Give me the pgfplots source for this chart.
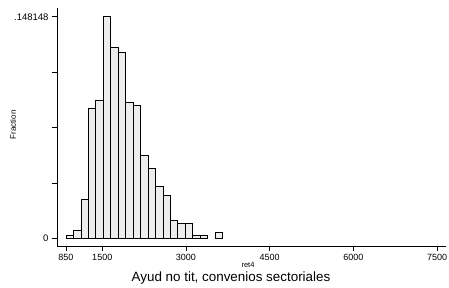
\documentclass[border=0pt]{standalone}
\usepackage{fontspec}
\setmainfont{Liberation Sans}
\usepackage{pgfplots}
\pgfplotsset{compat=1.18}
\definecolor{barfill}{HTML}{EDEDED}
\begin{document}
\begin{tikzpicture}[x=1pt,y=1pt]
\path[use as bounding box] (0,0) rectangle (449,288);
\begin{axis}[
  at={(57pt,42pt)}, anchor=south west,
  scale only axis, width=389pt, height=238pt,
  xmin=689, xmax=7660, ymin=-0.00515, ymax=0.1540,
  axis lines=left, axis line style={-, line width=0.7pt},
  tick style={line width=0.7pt, black},
  tick align=outside, major tick length=5pt,
  xtick={850,1500,3000,4500,6000,7500},
  xticklabels={850,1500,3000,4500,6000,7500},
  ytick={0,0.037037,0.074074,0.111111,0.148148},
  yticklabels={0,,,,.148148},
  scaled y ticks=false,
  xticklabel style={font=\fontsize{9}{10}\selectfont},
  yticklabel style={font=\fontsize{9.5}{10}\selectfont},
  /pgf/number format/assume math mode=true,
  clip=false,
]
\addplot[ybar interval, fill=barfill, draw=black, line width=0.6pt] coordinates {
(850,0.00185) (983.5,0.00556) (1117,0.0259) (1250.5,0.0870) (1384,0.0926)
(1517.5,0.148148) (1651,0.1278) (1784.5,0.1241) (1918,0.0907) (2051.5,0.0889)
(2185,0.0556) (2318.5,0.0471) (2452,0.0350) (2585.5,0.0286) (2719,0.0118)
(2852.5,0.0101) (2986,0.0101) (3119.5,0.00185) (3253,0.00185) (3386.5,0)
};
\addplot[ybar interval, fill=barfill, draw=black, line width=0.6pt] coordinates {
(3520,0.0040) (3653.5,0)
};
\end{axis}
\node[rotate=90, font=\fontsize{8}{9}\selectfont] at (13,163) {Fraction};
\node[font=\fontsize{7.5}{8}\selectfont] at (248,23) {ret4};
\node[font=\fontsize{13.4}{15}\selectfont] at (231,10) {Ayud no tit, convenios sectoriales};
\end{tikzpicture}
\end{document}
